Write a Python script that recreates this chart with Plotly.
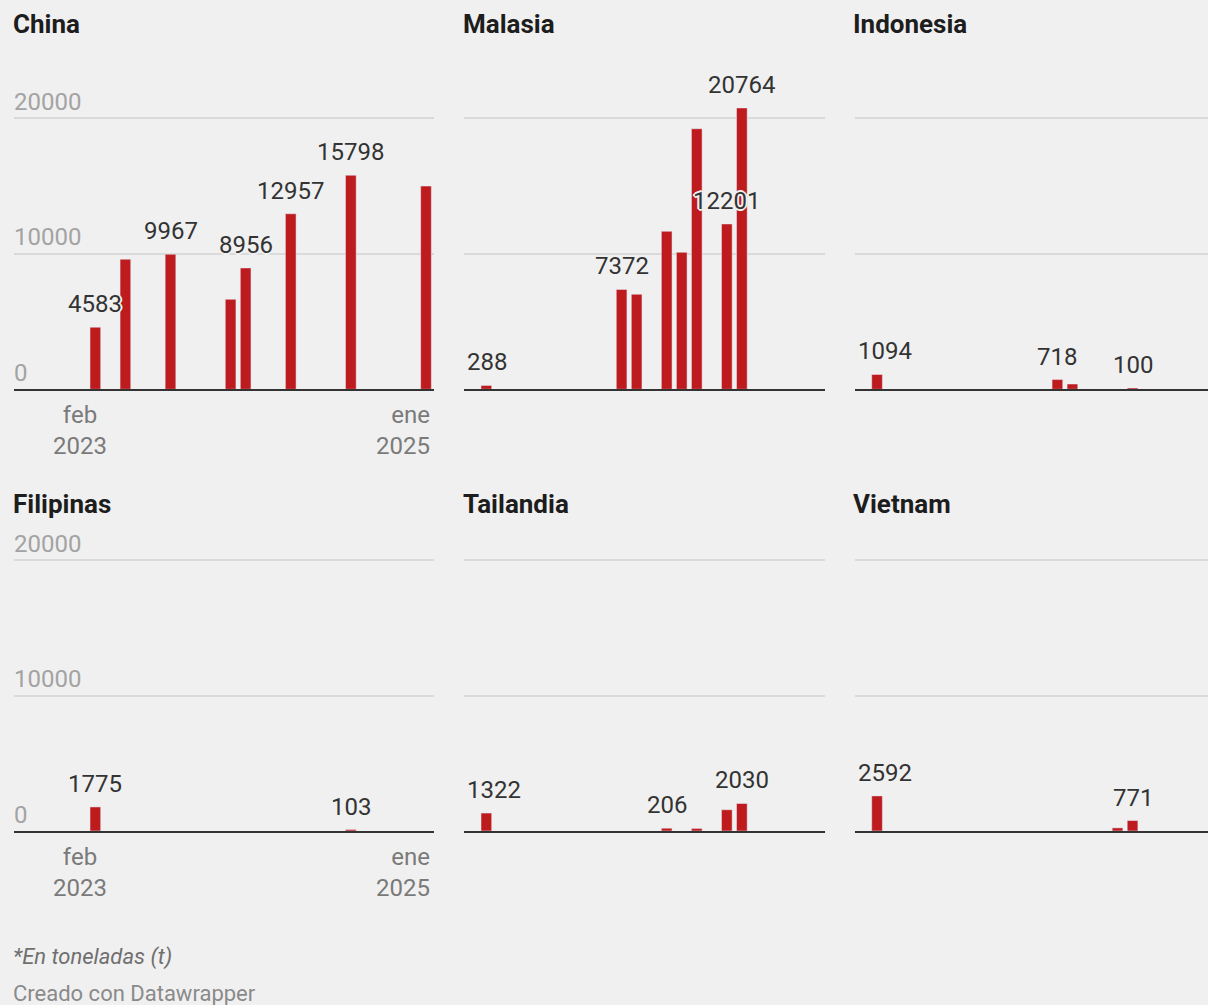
import plotly.graph_objects as go

months = ["feb 2023", "mar 2023", "abr 2023", "may 2023", "jun 2023", "jul 2023",
          "ago 2023", "sep 2023", "oct 2023", "nov 2023", "dic 2023", "ene 2024",
          "feb 2024", "mar 2024", "abr 2024", "may 2024", "jun 2024", "jul 2024",
          "ago 2024", "sep 2024", "oct 2024", "nov 2024", "dic 2024", "ene 2025"]

countries = ["China", "Malasia", "Indonesia", "Filipinas", "Tailandia", "Vietnam"]

N = None
china = [N, 4583, N, 9600, N, N, 9967, N, N, N, 6640, 8956,
         N, N, 12957, N, N, N, 15798, N, N, N, N, 15000]
malasia = [N, 288, N, N, N, N, N, N, N, N, 7372, 7010,
           N, 11660, 10110, 19230, N, 12201, 20764, N, N, N, N, N]
indonesia = [N, 1094, N, N, N, N, N, N, N, N, N, N,
             N, 718, 390, 30, N, N, 100, N, N, N, N, N]
filipinas = [N, 1775, N, N, N, N, N, N, N, N, N, N,
             N, N, N, N, N, N, 103, N, N, N, N, N]
tailandia = [N, 1322, N, N, N, N, N, N, N, N, N, N,
             N, 206, N, 190, N, 1570, 2030, N, N, N, N, N]
vietnam = [N, 2592, N, N, N, N, N, N, N, N, N, N,
           N, N, N, N, N, 230, 771, N, N, N, N, N]

# months whose value gets a label
china_lab = [1, 6, 11, 14, 18]
malasia_lab = [1, 10, 17, 18]
indonesia_lab = [1, 13, 18]
filipinas_lab = [1, 18]
tailandia_lab = [1, 13, 18]
vietnam_lab = [1, 18]

y_ticks = [0, 10000, 20000]

series = [china, malasia, indonesia, filipinas, tailandia, vietnam]
labels = [china_lab, malasia_lab, indonesia_lab, filipinas_lab, tailandia_lab, vietnam_lab]

W, H = 1208, 1005
BG = "#f0f0f0"
RED = "#be1b1f"
FONT = "Roboto"
slot = 15.03
col_left = [72.8, 463.8, 854.5]
row_base = [389.3, 831.0]
row_top = [60.0, 502.0]
title_y = [24, 504]
px_per_unit = 135.5 / 10000
digit_w = 13.5  # approx width of one digit at 24px

fig = go.Figure()
annotations = []
shadow = ", ".join(f"{dx}px {dy}px 0 {BG}" for dx, dy in
                   [(1, 0), (-1, 0), (0, 1), (0, -1), (1, 1), (-1, -1), (1, -1), (-1, 1),
                    (2, 0), (-2, 0), (0, 2), (0, -2)])

for k, name in enumerate(countries):
    r, c = divmod(k, 3)
    n = k + 1
    xa = "x" if n == 1 else f"x{n}"
    ya = "y" if n == 1 else f"y{n}"
    vals = series[k]

    fig.add_trace(go.Bar(x=months, y=vals, marker_color=RED, width=0.71,
                         xaxis=xa, yaxis=ya, hoverinfo="x+y", showlegend=False))

    left = col_left[c]
    right = min(left + 24 * slot, W)
    lo = -0.5
    if c == 0:
        lo = -0.5 - (left - 14) / slot
        left = 14
    hi = -0.5 + (right - col_left[c]) / slot
    ymax = (row_base[r] - row_top[r]) / px_per_unit

    fig.layout[f"xaxis{n if n > 1 else ''}"] = dict(
        domain=[left / W, right / W], range=[lo, hi], type="category",
        anchor=ya, showticklabels=False, showgrid=False, zeroline=False,
        showline=True, linecolor="#333333", linewidth=2, ticks="", fixedrange=True)
    fig.layout[f"yaxis{n if n > 1 else ''}"] = dict(
        domain=[1 - row_base[r] / H, 1 - row_top[r] / H], range=[0, ymax],
        anchor=xa, tickvals=y_ticks, ticktext=[str(v) for v in y_ticks],
        showgrid=True, gridcolor="#dadada", gridwidth=2,
        zeroline=False, showline=False, ticks="", showticklabels=(c == 0),
        ticklabelposition="inside top", ticklabelstandoff=-3,
        tickfont=dict(family=FONT, size=24, color="#a3a3a3"), fixedrange=True)

    annotations.append(dict(
        text=f"<b>{name}</b>", xref="paper", yref="paper",
        x=(col_left[c] - 3) / W if c else 11 / W,
        y=1 - title_y[r] / H, xanchor="left", yanchor="middle", showarrow=False,
        font=dict(family=FONT, size=26, color="#1d1d1d")))

    for i in labels[k]:
        txt = str(vals[i])
        # keep labels inside the panel, like datawrapper does
        centre = col_left[c] + (i + 0.5) * slot
        edge = centre - len(txt) * digit_w / 2
        shift = max(0, left + 3 - edge)
        annotations.append(dict(
            text=txt, xref=xa, yref=ya, x=months[i], y=vals[i],
            xanchor="center", yanchor="middle", yshift=23, xshift=shift, showarrow=False,
            font=dict(family=FONT, size=24, color="#333333", shadow=shadow)))

    if c == 0:
        first, last = months[0], months[-1]
        annotations.append(dict(
            text=first.replace(" ", "<br>"), xref=xa, yref=ya, x=first, y=0,
            xanchor="center", yanchor="top", yshift=-10, align="center", showarrow=False,
            font=dict(family=FONT, size=24, color="#7a7a7a")))
        annotations.append(dict(
            text=last.replace(" ", "<br>"), xref=xa, yref=ya, x=last, y=0,
            xanchor="right", yanchor="top", yshift=-10, xshift=6, align="right",
            showarrow=False, font=dict(family=FONT, size=24, color="#7a7a7a")))

annotations.append(dict(
    text="<i>*En toneladas (t)</i>", xref="paper", yref="paper", x=11 / W, y=1 - 957 / H,
    xanchor="left", yanchor="middle", showarrow=False,
    font=dict(family=FONT, size=22, color="#6f6f6f")))
annotations.append(dict(
    text="Creado con Datawrapper", xref="paper", yref="paper", x=11 / W, y=1 - 993 / H,
    xanchor="left", yanchor="middle", showarrow=False,
    font=dict(family=FONT, size=22, color="#8a8a8a")))

fig.update_layout(
    width=W, height=H, margin=dict(l=0, r=0, t=0, b=0),
    paper_bgcolor=BG, plot_bgcolor=BG, bargap=0.29,
    annotations=annotations, font=dict(family=FONT))

fig.write_html("out.html", config={"displayModeBar": False},
               post_script="document.body.style.margin='0';"
                           "document.body.style.overflow='hidden';")
